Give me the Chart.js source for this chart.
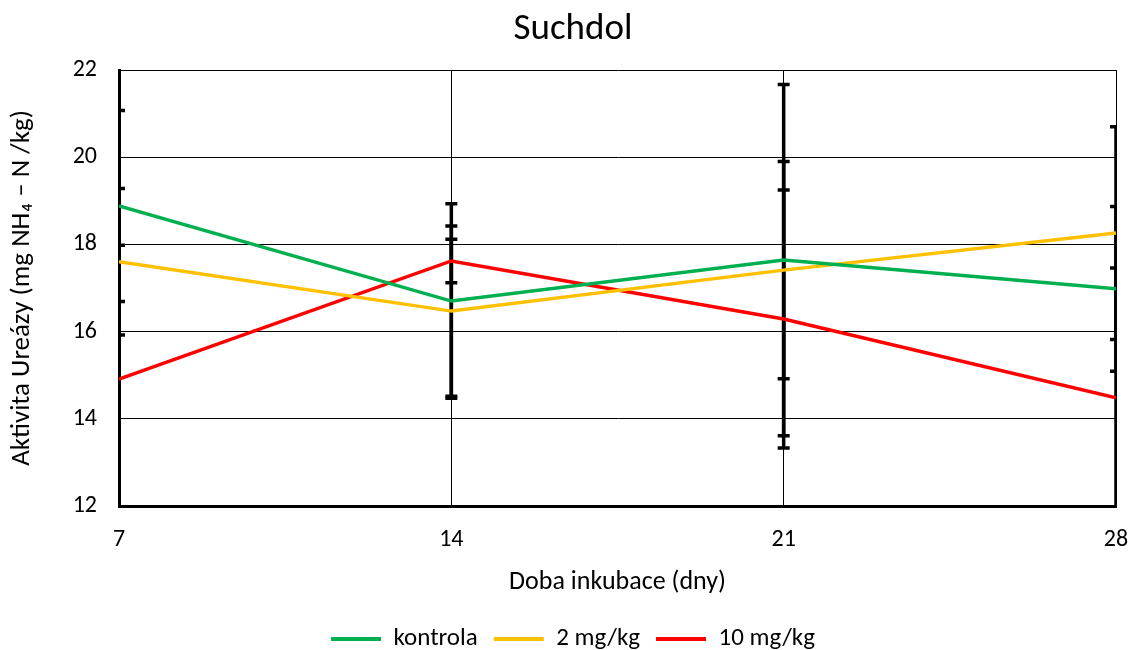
<!DOCTYPE html>
<html>
<head>
<meta charset="utf-8">
<script src="https://cdn.jsdelivr.net/npm/chart.js@4.4.1/dist/chart.umd.min.js"></script>
<style>
  html, body { margin: 0; padding: 0; background: #ffffff; }
  #wrap { width: 1131px; height: 650px; }
</style>
</head>
<body>
<div id="wrap"><canvas id="c" width="1131" height="650"></canvas></div>
<script>
const days = [7, 14, 21, 28];
const kontrola = [18.88, 16.70, 17.64, 16.98];
const mg2 = [17.60, 16.47, 17.41, 18.26];
const mg10 = [14.91, 17.62, 16.29, 14.48];
const kontrolaErr = [2.19, 2.23, 4.03, 1.89];
const mg2Err = [1.68, 1.95, 2.49, 2.44];
const mg10Err = [3.07, 0.50, 2.96, 2.98];
const seriesNames = ['kontrola', '2 mg/kg', '10 mg/kg'];
const yTicks = [12, 14, 16, 18, 20, 22];
const xTicks = [7, 14, 21, 28];

const FONT = "Carlito, Calibri, Lato, sans-serif";
const colors = ['#00B050', '#FFC000', '#FF0000'];

function pts(vals) { return days.map((d, i) => ({ x: d, y: vals[i] })); }

const errorBars = {
  id: 'errorBars',
  beforeDatasetsDraw(chart) {
    const { ctx, chartArea, scales } = chart;
    ctx.save();
    ctx.beginPath();
    ctx.rect(chartArea.left, chartArea.top, chartArea.right - chartArea.left, chartArea.bottom - chartArea.top);
    ctx.clip();
    ctx.strokeStyle = '#000000';
    ctx.lineWidth = 3.5;
    chart.data.datasets.forEach(ds => {
      ds.data.forEach((p, i) => {
        const e = ds.errors[i];
        const x = scales.x.getPixelForValue(p.x);
        const y1 = scales.y.getPixelForValue(p.y + e);
        const y2 = scales.y.getPixelForValue(p.y - e);
        ctx.beginPath();
        ctx.moveTo(x, y1); ctx.lineTo(x, y2);
        ctx.moveTo(x - 6, y1); ctx.lineTo(x + 6, y1);
        ctx.moveTo(x - 6, y2); ctx.lineTo(x + 6, y2);
        ctx.stroke();
      });
    });
    ctx.restore();
  }
};

new Chart(document.getElementById('c'), {
  type: 'line',
  data: {
    datasets: [
      { label: seriesNames[0], data: pts(kontrola), errors: kontrolaErr, borderColor: colors[0], backgroundColor: colors[0] },
      { label: seriesNames[1], data: pts(mg2), errors: mg2Err, borderColor: colors[1], backgroundColor: colors[1] },
      { label: seriesNames[2], data: pts(mg10), errors: mg10Err, borderColor: colors[2], backgroundColor: colors[2] }
    ]
  },
  options: {
    responsive: false,
    animation: false,
    devicePixelRatio: 1,
    layout: { padding: { left: 30, right: 15, top: 0, bottom: -11.5 } },
    elements: {
      line: { borderWidth: 3.5, tension: 0, fill: false },
      point: { radius: 0, hoverRadius: 0 }
    },
    plugins: {
      title: {
        display: true,
        text: 'Suchdol',
        color: '#000000',
        font: { family: FONT, size: 37, weight: 'normal' },
        padding: { top: 8, bottom: 17.6 }
      },
      legend: {
        position: 'bottom',
        labels: {
          color: '#000000',
          font: { family: FONT, size: 25 },
          boxWidth: 50,
          boxHeight: 4,
          padding: 16,
          generateLabels(chart) {
            return chart.data.datasets.map((ds, i) => ({
              text: ds.label,
              fillStyle: ds.borderColor,
              strokeStyle: ds.borderColor,
              lineWidth: 0,
              hidden: false,
              datasetIndex: i
            }));
          }
        }
      },
      tooltip: { enabled: false }
    },
    scales: {
      x: {
        type: 'linear',
        min: 7, max: 28,
        afterBuildTicks(scale) { scale.ticks = xTicks.map(v => ({ value: v })); },
        afterFit(scale) { scale.height = 104.5; scale.paddingRight = 0; scale.paddingLeft = 0; },
        ticks: { color: '#000000', font: { family: FONT, size: 24 }, padding: 20, maxRotation: 0 },
        grid: { color: '#000000', lineWidth: 1, drawTicks: false },
        border: { display: true, color: '#000000', width: 3 },
        title: { display: true, text: 'Doba inkubace (dny)', color: '#000000', font: { family: FONT, size: 26 }, padding: { top: 0, bottom: 12 } }
      },
      y: {
        type: 'linear',
        min: 12, max: 22,
        afterBuildTicks(scale) { scale.ticks = yTicks.map(v => ({ value: v })); },
        afterFit(scale) { scale.width = 89; },
        ticks: { color: '#000000', font: { family: FONT, size: 24 }, padding: 22 },
        grid: { color: '#000000', lineWidth: 1, drawTicks: false },
        border: { display: true, color: '#000000', width: 3 },
        title: { display: true, text: 'Aktivita Ureázy (mg NH₄ – N /kg)', color: '#000000', font: { family: FONT, size: 27 }, padding: { top: -24, bottom: 0 } }
      }
    }
  },
  plugins: [errorBars]
});
</script>
</body>
</html>
